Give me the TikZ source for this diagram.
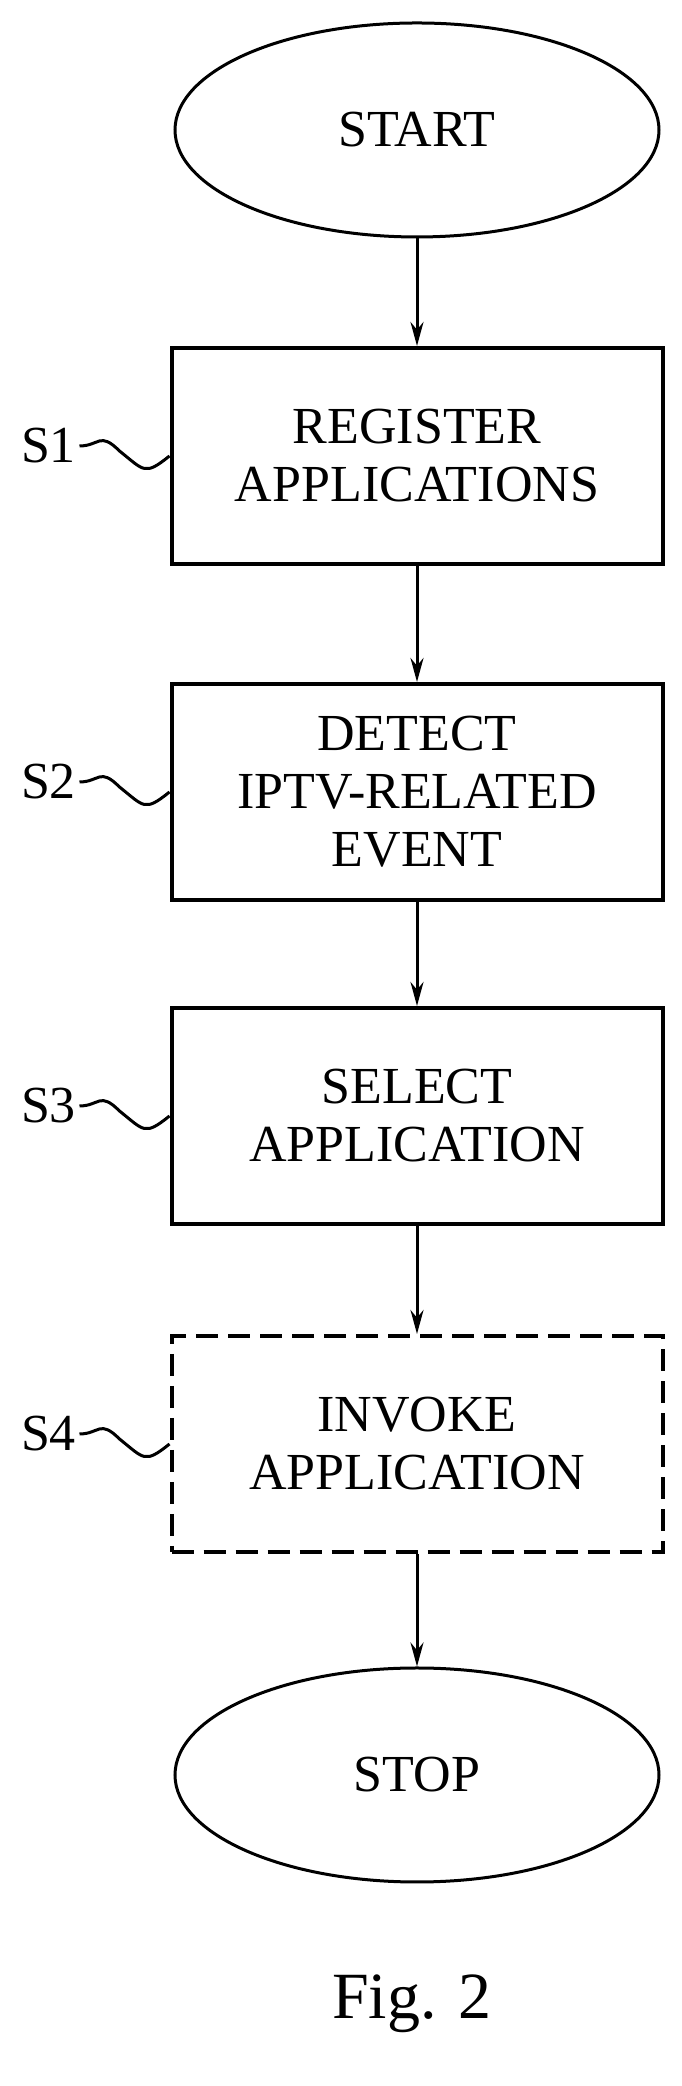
\documentclass[tikz,border=0pt]{standalone}
\usepackage{fontspec}
\setmainfont{Liberation Serif}
\usetikzlibrary{shapes.geometric,positioning,arrows.meta}
\tikzset{
  proc/.style={draw, line width=4pt, minimum width=491pt, minimum height=216pt, align=center, font=\fontsize{52}{58}\selectfont},
  term/.style={draw, ellipse, line width=3pt, minimum width=484pt, minimum height=214pt, font=\fontsize{52}{58}\selectfont},
  flow/.style={-{Stealth[length=24pt,width=13pt]}, line width=3pt},
  tag/.style={font=\fontsize{52}{58}\selectfont, anchor=east}
}
\newcommand{\squig}[2]{\draw[line width=3pt] (#1.west) .. controls +(-25pt,-20pt) and +(25pt,-20pt) .. ++(-50pt,5pt) .. controls +(-20pt,20pt) and +(20pt,0pt) .. ++(-40pt,5pt) coordinate (#2);}
\begin{document}
\begin{tikzpicture}[x=1pt,y=1pt]
\useasboundingbox (0,0) rectangle (681,2086);
\node[term] (start) at (417,1956) {START};
\node[proc] (s1) at (417,1630) {REGISTER\\APPLICATIONS};
\node[proc] (s2) at (417,1294) {DETECT\\IPTV-RELATED\\EVENT};
\node[proc] (s3) at (417,970) {SELECT\\APPLICATION};
\node[proc, dashed, dash pattern=on 22pt off 10pt] (s4) at (417,642) {INVOKE\\APPLICATION};
\node[term] (stop) at (417,311) {STOP};
\node[font=\fontsize{66}{70}\selectfont] (fig) at (412,82) {Fig. 2};
% step tags
\foreach \s/\t in {s1/S1,s2/S2,s3/S3,s4/S4}{
  \squig{\s}{c\s}
  \node[tag] at (c\s) {\t};
}
\draw[flow] (start) -- (s1);
\draw[flow] (s1) -- (s2);
\draw[flow] (s2) -- (s3);
\draw[flow] (s3) -- (s4);
\draw[flow] (s4) -- (stop);
\end{tikzpicture}
\end{document}
